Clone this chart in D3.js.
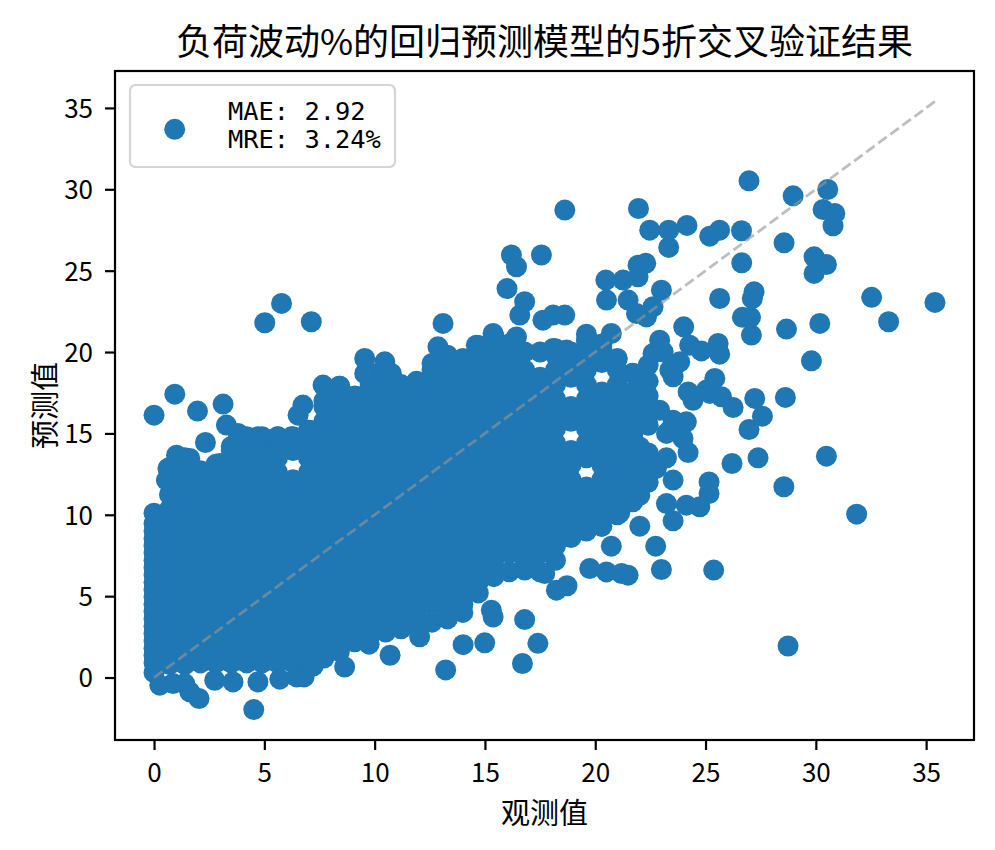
<!DOCTYPE html>
<html>
<head>
<meta charset="utf-8">
<script src="https://cdn.jsdelivr.net/npm/d3@7"></script>
<style>
  body { margin: 0; background: #fff; }
</style>
</head>
<body>
<svg id="chart" width="995" height="850"></svg>
<script>
const chartTitle = "负荷波动%的回归预测模型的5折交叉验证结果";
const xLabel = "观测值";
const yLabel = "预测值";
const legendLines = ["MAE: 2.92", "MRE: 3.24%"];
const xTicks = [0, 5, 10, 15, 20, 25, 30, 35];
const yTicks = [0, 5, 10, 15, 20, 25, 30, 35];
const diagonal = [0, 35.4];

// dense core of the cloud, read column by column: [observed, [predicted...]]
const denseColumns = [
  [0.0, [0.3, 0.9, 1.35, 1.8, 2.25, 2.7, 3.15, 3.6, 4.05, 4.5, 4.95, 5.4, 5.85, 6.3, 6.75, 7.2, 7.65, 8.1, 8.55, 9.0, 9.45, 10.1]],
  [0.7, [0.8, 1.35, 2.25, 3.15, 4.05, 4.95, 5.85, 6.75, 7.65, 8.55, 9.45, 10.35, 11.25, 12.15, 12.9]],
  [1.4, [0.8, 1.8, 2.7, 3.6, 4.5, 5.4, 6.3, 7.2, 8.1, 9.0, 9.9, 10.8, 11.7, 12.6, 13.5]],
  [2.1, [0.9, 1.35, 2.25, 3.15, 4.05, 4.95, 5.85, 6.75, 7.65, 8.55, 9.45, 10.35, 11.25, 12.15, 12.7]],
  [2.8, [0.9, 1.8, 2.7, 3.6, 4.5, 5.4, 6.3, 7.2, 8.1, 9.0, 9.9, 10.8, 11.7, 12.6, 13.1]],
  [3.5, [0.9, 1.35, 2.25, 3.15, 4.05, 4.95, 5.85, 6.75, 7.65, 8.55, 9.45, 10.35, 11.25, 12.15, 13.05, 13.95, 14.2]],
  [4.2, [0.9, 1.8, 2.7, 3.6, 4.5, 5.4, 6.3, 7.2, 8.1, 9.0, 9.9, 10.8, 11.7, 12.6, 13.5, 14.4, 14.8]],
  [4.9, [0.9, 1.35, 2.25, 3.15, 4.05, 4.95, 5.85, 6.75, 7.65, 8.55, 9.45, 10.35, 11.25, 12.15, 13.05, 13.95, 14.8]],
  [5.6, [0.9, 1.8, 2.7, 3.6, 4.5, 5.4, 6.3, 7.2, 8.1, 9.0, 9.9, 10.8, 11.7, 12.6, 13.5, 14.4, 14.8]],
  [6.3, [0.9, 1.35, 2.25, 3.15, 4.05, 4.95, 5.85, 6.75, 7.65, 8.55, 9.45, 10.35, 11.25, 12.15, 13.95, 14.8]],
  [7.0, [1.0, 1.8, 2.7, 3.6, 4.5, 5.4, 6.3, 7.2, 8.1, 9.0, 9.9, 10.8, 11.7, 12.6, 13.5, 14.4, 15.2]],
  [7.7, [1.2, 2.25, 3.15, 4.05, 4.95, 5.85, 6.75, 7.65, 8.55, 9.45, 10.35, 11.25, 12.15, 13.05, 13.95, 14.85, 15.75, 16.65, 17.0]],
  [8.4, [1.6, 2.7, 3.6, 4.5, 5.4, 6.3, 7.2, 8.1, 9.0, 9.9, 10.8, 11.7, 12.6, 13.5, 14.4, 15.3, 16.2, 17.1, 17.9]],
  [9.1, [2.2, 3.15, 4.05, 4.95, 5.85, 6.75, 7.65, 8.55, 9.45, 10.35, 11.25, 12.15, 13.05, 13.95, 14.85, 15.75, 16.65, 17.3]],
  [9.8, [2.6, 3.6, 4.5, 5.4, 6.3, 7.2, 8.1, 9.0, 9.9, 10.8, 11.7, 12.6, 13.5, 14.4, 15.3, 16.2, 17.1, 18.0, 18.7]],
  [10.5, [2.8, 3.15, 4.05, 4.95, 5.85, 6.75, 7.65, 8.55, 9.45, 10.35, 11.25, 12.15, 13.05, 13.95, 14.85, 15.75, 16.65, 17.55, 18.7]],
  [11.2, [3.0, 3.6, 4.5, 5.4, 6.3, 7.2, 8.1, 9.0, 9.9, 10.8, 11.7, 12.6, 13.5, 14.4, 15.3, 16.2, 17.1, 18.0]],
  [11.9, [3.2, 4.05, 4.95, 5.85, 6.75, 7.65, 8.55, 9.45, 10.35, 11.25, 12.15, 13.05, 13.95, 14.85, 15.75, 16.65, 17.55, 18.2]],
  [12.6, [3.4, 4.5, 5.4, 6.3, 7.2, 8.1, 9.0, 9.9, 10.8, 11.7, 12.6, 13.5, 14.4, 15.3, 16.2, 17.1, 18.0, 18.9, 19.3]],
  [13.3, [3.6, 4.05, 4.95, 5.85, 6.75, 7.65, 8.55, 9.45, 10.35, 11.25, 12.15, 13.05, 13.95, 14.85, 15.75, 16.65, 17.55, 18.45, 19.35, 19.8]],
  [14.0, [4.0, 4.5, 5.4, 6.3, 7.2, 8.1, 9.0, 9.9, 10.8, 11.7, 12.6, 13.5, 14.4, 15.3, 16.2, 17.1, 18.0, 18.9, 19.6]],
  [14.7, [5.2, 5.85, 6.75, 7.65, 8.55, 9.45, 10.35, 11.25, 12.15, 13.05, 13.95, 14.85, 15.75, 16.65, 17.55, 18.45, 19.35, 20.4]],
  [15.4, [6.2, 7.2, 8.1, 9.0, 9.9, 10.8, 11.7, 12.6, 13.5, 14.4, 15.3, 16.2, 17.1, 18.0, 18.9, 19.8, 20.7, 21.0]],
  [16.1, [6.5, 7.65, 8.55, 9.45, 10.35, 11.25, 12.15, 13.05, 13.95, 14.85, 15.75, 16.65, 17.55, 18.45, 19.35, 20.25, 20.5]],
  [16.8, [6.6, 7.2, 8.1, 9.0, 9.9, 10.8, 11.7, 12.6, 13.5, 14.4, 15.3, 16.2, 17.1, 18.0, 18.9, 20.0]],
  [17.5, [6.5, 7.65, 8.55, 9.45, 10.35, 11.25, 12.15, 13.05, 13.95, 14.85, 15.75, 16.65, 17.55, 18.45, 20.0]],
  [18.2, [7.2, 8.1, 9.0, 9.9, 10.8, 11.7, 12.6, 13.5, 14.4, 15.3, 16.2, 17.1, 18.0, 18.9, 19.8, 20.2]],
  [18.9, [8.6, 9.45, 10.35, 11.25, 12.15, 13.05, 13.95, 15.75, 16.65, 18.45, 19.35, 20.0]],
  [19.6, [9.0, 9.9, 10.8, 11.7, 13.5, 14.4, 15.3, 16.2, 17.1, 18.0, 18.9, 19.8, 20.7]],
  [20.3, [9.3, 10.35, 11.25, 12.15, 13.05, 13.95, 14.85, 15.75, 16.65, 17.55, 19.35, 20.25, 20.5]],
  [21.0, [10.0, 10.8, 11.7, 12.6, 13.5, 14.4, 15.3, 16.2, 17.1, 18.0, 18.9, 19.6]],
  [21.7, [10.8, 11.25, 12.15, 13.05, 13.95, 14.85, 15.75, 16.65, 17.55, 18.7]],
  [22.4, [12.0, 12.9, 13.8, 15.5, 16.4, 17.3, 18.2, 19.2]]
];

// points hanging below the cloud
const lowerFringe = [
  [0.26, -0.47], [0.86, -0.37], [1.39, -0.37], [1.62, -0.88], [2.04, -1.29], [2.75, -0.17],
  [3.58, -0.27], [4.52, -1.97], [4.71, -0.27], [5.7, -0.1], [6.46, 0.04], [6.8, 0.04],
  [7.21, 0.7], [8.64, 0.65], [9.75, 2.05], [10.7, 1.37], [12.04, 2.5], [13.22, 0.47],
  [14.01, 2.02], [14.99, 2.13], [15.29, 4.14], [15.37, 3.72], [16.8, 3.56], [16.7, 0.86],
  [17.4, 2.1], [16.88, 7.21], [17.71, 6.39], [18.24, 5.37], [18.72, 5.64], [19.75, 6.7],
  [20.51, 6.49], [21.19, 6.39], [21.49, 6.29], [23.0, 6.64], [25.37, 6.6], [20.73, 8.07],
  [22.74, 8.07], [22.02, 9.3], [23.53, 9.63], [28.74, 1.94]
];

// points above the upper edge of the cloud
const upperFringe = [
  [0.0, 16.12], [0.94, 17.41], [1.97, 16.37], [3.13, 16.8], [2.33, 14.44], [3.28, 15.51],
  [3.81, 15.0], [3.66, 14.17], [1.02, 13.66], [1.62, 13.46], [0.63, 12.85], [0.56, 12.13],
  [2.45, 12.64], [2.98, 13.15], [4.71, 14.79], [5.62, 14.79], [6.23, 14.79], [7.06, 15.2],
  [8.04, 15.2], [6.53, 16.12], [6.75, 16.74], [7.66, 17.97], [8.42, 17.9], [7.89, 17.04],
  [9.32, 17.25], [10.16, 17.66], [9.55, 18.68], [10.76, 18.68], [9.55, 19.6], [10.46, 19.4],
  [11.9, 18.17], [12.42, 17.35], [12.72, 19.19], [12.87, 20.32], [13.1, 21.76], [5.02, 21.8],
  [5.78, 22.99], [7.13, 21.86], [14.61, 20.42], [15.37, 21.14], [15.67, 20.42], [16.43, 20.93],
  [18.09, 20.22], [18.7, 20.12], [17.63, 21.96], [18.09, 22.27], [16.58, 22.27], [16.8, 23.09],
  [16.0, 23.9], [16.2, 25.96], [16.43, 25.24], [17.56, 25.96]
];

// scattered points to the right of the cloud
const rightFringe = [
  [23.53, 12.13], [23.23, 13.5], [22.77, 12.85], [22.02, 11.2], [21.11, 10.12], [20.28, 9.3],
  [19.15, 9.01], [24.13, 10.59], [23.23, 10.69], [24.74, 10.49], [25.16, 11.31], [25.16, 12.02],
  [26.2, 13.15], [27.38, 13.5], [30.48, 13.6], [28.55, 11.72], [31.85, 10.04], [24.21, 13.82],
  [23.98, 14.69], [23.38, 15.2], [24.13, 15.71], [23.53, 15.81], [23.23, 15.0], [22.92, 16.43],
  [22.02, 14.17], [24.43, 17.04], [24.21, 17.55], [25.19, 17.46], [25.72, 17.25], [26.25, 16.59],
  [27.23, 17.15], [27.58, 16.06], [26.97, 15.24], [28.62, 17.21], [25.42, 18.38], [25.04, 17.66],
  [23.53, 18.48], [23.83, 19.4], [23.38, 18.89], [21.71, 18.68], [22.62, 19.91], [22.92, 20.73],
  [23.08, 20.01], [24.28, 20.42], [24.81, 20.07], [25.57, 20.53], [25.64, 19.87], [24.01, 21.55],
  [29.8, 19.46], [28.67, 21.41], [30.18, 21.76], [33.3, 21.86], [32.53, 23.36], [35.4, 23.05],
  [27.08, 21.04], [26.67, 22.13], [27.04, 22.13], [27.12, 23.29], [27.2, 23.7], [25.64, 23.29],
  [22.32, 22.16], [21.87, 22.37], [22.62, 22.78], [23.0, 23.8], [20.51, 23.19], [21.49, 23.19],
  [20.48, 24.42], [21.26, 24.42], [21.94, 24.62], [21.94, 25.34], [22.29, 25.45], [18.62, 22.27],
  [19.6, 21.1], [20.73, 21.14], [29.92, 24.83], [30.48, 25.38], [29.92, 25.85], [26.64, 25.48],
  [28.56, 26.71], [26.63, 27.45], [25.19, 27.12], [25.64, 27.49], [24.16, 27.78], [23.33, 27.49],
  [23.33, 26.43], [22.47, 27.49], [21.96, 28.82], [18.62, 28.72], [30.78, 27.76], [30.86, 28.52],
  [30.33, 28.76], [30.54, 29.99], [28.97, 29.6], [26.97, 30.52]
];

const points = denseColumns
  .flatMap(([obs, preds]) => preds.map((p) => [obs, p]))
  .concat(lowerFringe, upperFringe, rightFringe);

const width = 995;
const height = 850;
const plot = { left: 115, right: 974, top: 71, bottom: 740 };
const pointRadius = 10.5;
const blue = "#1f77b4";
const cjkFont = "'Noto Sans CJK SC', 'Noto Sans', sans-serif";

// matplotlib-style 5% margins
const padded = (vals) => {
  const [lo, hi] = d3.extent(vals);
  const m = (hi - lo) * 0.05;
  return [lo - m, hi + m];
};

const x = d3
  .scaleLinear()
  .domain(padded(points.map((d) => d[0]).concat(diagonal)))
  .range([plot.left, plot.right]);

const y = d3
  .scaleLinear()
  .domain(padded(points.map((d) => d[1]).concat(diagonal)))
  .range([plot.bottom, plot.top]);

const svg = d3.select("#chart");

svg.append("rect").attr("width", width).attr("height", height).attr("fill", "#fff");

// scatter
svg
  .append("g")
  .selectAll("circle")
  .data(points)
  .join("circle")
  .attr("cx", (d) => x(d[0]))
  .attr("cy", (d) => y(d[1]))
  .attr("r", pointRadius)
  .attr("fill", blue);

// y = x reference line
svg
  .append("line")
  .attr("x1", x(diagonal[0]))
  .attr("y1", y(diagonal[0]))
  .attr("x2", x(diagonal[1]))
  .attr("y2", y(diagonal[1]))
  .attr("stroke", "#969696")
  .attr("stroke-opacity", 0.62)
  .attr("stroke-width", 2.8)
  .attr("stroke-dasharray", "10.5 4.5");

// axes
const xAxis = svg
  .append("g")
  .attr("transform", `translate(0,${plot.bottom})`)
  .call(d3.axisBottom(x).tickValues(xTicks).tickSize(10).tickSizeOuter(0));
xAxis.select(".domain").remove();
xAxis.selectAll("line").attr("stroke", "#000").attr("stroke-width", 2.2);
xAxis
  .selectAll("text")
  .attr("y", 42)
  .attr("dy", null)
  .attr("fill", "#000")
  .attr("font-size", 26)
  .attr("font-family", cjkFont);

const yAxis = svg
  .append("g")
  .attr("transform", `translate(${plot.left},0)`)
  .call(d3.axisLeft(y).tickValues(yTicks).tickSize(10).tickSizeOuter(0));
yAxis.select(".domain").remove();
yAxis.selectAll("line").attr("stroke", "#000").attr("stroke-width", 2.2);
yAxis
  .selectAll("text")
  .attr("x", -22)
  .attr("dy", "0.36em")
  .attr("fill", "#000")
  .attr("font-size", 26)
  .attr("font-family", cjkFont);

// spines
svg
  .append("rect")
  .attr("x", plot.left)
  .attr("y", plot.top)
  .attr("width", plot.right - plot.left)
  .attr("height", plot.bottom - plot.top)
  .attr("fill", "none")
  .attr("stroke", "#000")
  .attr("stroke-width", 2.2);

// titles
svg
  .append("text")
  .attr("x", (plot.left + plot.right) / 2)
  .attr("y", 55)
  .attr("text-anchor", "middle")
  .attr("font-family", cjkFont)
  .attr("font-size", 36)
  .text(chartTitle);

svg
  .append("text")
  .attr("x", (plot.left + plot.right) / 2)
  .attr("y", 824)
  .attr("text-anchor", "middle")
  .attr("font-family", cjkFont)
  .attr("font-size", 29)
  .text(xLabel);

svg
  .append("text")
  .attr("transform", `translate(56,${(plot.top + plot.bottom) / 2}) rotate(-90)`)
  .attr("text-anchor", "middle")
  .attr("font-family", cjkFont)
  .attr("font-size", 29)
  .text(yLabel);

// legend
const legend = svg.append("g");
legend
  .append("rect")
  .attr("x", 130)
  .attr("y", 85)
  .attr("width", 265)
  .attr("height", 82)
  .attr("rx", 5.5)
  .attr("fill", "#fff")
  .attr("fill-opacity", 0.8)
  .attr("stroke", "#d5d5d5")
  .attr("stroke-width", 2.2);
legend
  .append("circle")
  .attr("cx", 174.7)
  .attr("cy", 129.3)
  .attr("r", pointRadius)
  .attr("fill", blue);
legend
  .selectAll("text")
  .data(legendLines)
  .join("text")
  .attr("x", 228)
  .attr("y", (d, i) => 120 + i * 28.3)
  .attr("font-family", "'DejaVu Sans Mono', 'Liberation Mono', monospace")
  .attr("font-size", 25.4)
  .attr("fill", "#000")
  .text((d) => d);
</script>
</body>
</html>
